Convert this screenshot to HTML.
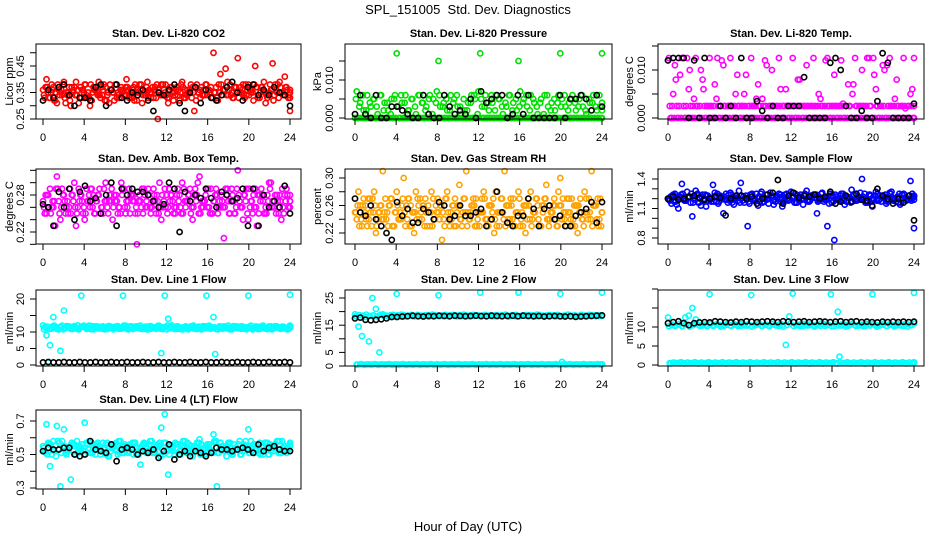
<!DOCTYPE html>
<html><head><meta charset="utf-8">
<style>
html,body{margin:0;padding:0;background:#fff;}
svg{display:block;font-family:"Liberation Sans",Arial,sans-serif;}
</style></head>
<body>
<svg id="chart" width="936" height="540" viewBox="0 0 936 540" xmlns="http://www.w3.org/2000/svg">
<rect x="0" y="0" width="936" height="540" fill="#fff"/>
<text x="468" y="14" font-size="13" text-anchor="middle">SPL_151005&#160; Std. Dev. Diagnostics</text>
<text x="468" y="531" font-size="13" text-anchor="middle">Hour of Day (UTC)</text>
</svg>
<script>
const xTicks=[0,4,8,12,16,20,24];
const co2A=[0.36,0.40,0.33,0.37,0.31,0.35,0.39,0.34,0.30,0.37,0.36,0.33,0.38,0.35,0.32,0.36,0.39,0.34,0.37,0.31,0.35,0.38,0.33,0.36,0.40,0.34,0.37,0.32,0.36,0.35,0.39,0.33,0.36,0.25,0.38,0.35,0.31,0.37,0.34,0.36,0.39,0.33,0.35,0.37,0.32,0.36,0.34,0.38,0.35,0.50,0.33,0.42,0.36,0.39,0.34,0.37,0.48,0.35,0.33,0.38,0.36,0.45,0.34,0.37,0.31,0.35,0.46,0.36,0.39,0.34,0.37,0.28];
const co2B=[0.33,0.35,0.38,0.32,0.36,0.34,0.31,0.37,0.35,0.39,0.33,0.36,0.34,0.30,0.37,0.35,0.33,0.38,0.34,0.36,0.32,0.35,0.37,0.34,0.36,0.33,0.38,0.35,0.31,0.34,0.36,0.37,0.33,0.35,0.38,0.34,0.36,0.32,0.37,0.35,0.33,0.36,0.38,0.28,0.35,0.37,0.34,0.36,0.33,0.35,0.38,0.34,0.44,0.36,0.33,0.37,0.35,0.38,0.34,0.36,0.32,0.37,0.35,0.39,0.33,0.36,0.34,0.38,0.35,0.41,0.33,0.36];
const co2C=[0.34,0.37,0.35,0.32,0.38,0.36,0.33,0.35,0.37,0.34,0.31,0.36,0.38,0.33,0.35,0.37,0.34,0.36,0.32,0.38,0.35,0.33,0.36,0.34,0.37,0.35,0.32,0.36,0.38,0.34,0.33,0.35,0.37,0.36,0.34,0.38,0.33,0.35,0.36,0.32,0.37,0.34,0.36,0.35,0.38,0.33,0.36,0.34,0.37,0.35,0.32,0.38,0.36,0.34,0.35,0.37,0.33,0.36,0.38,0.34,0.35,0.37,0.33,0.36,0.34,0.38,0.32,0.35,0.37,0.34,0.36,0.33];
const co2D=[0.37,0.33,0.36,0.35,0.34,0.38,0.35,0.32,0.36,0.34,0.37,0.35,0.33,0.38,0.36,0.34,0.37,0.32,0.35,0.36,0.38,0.34,0.35,0.37,0.33,0.36,0.35,0.38,0.34,0.37,0.35,0.33,0.38,0.34,0.36,0.33,0.37,0.35,0.34,0.38,0.36,0.35,0.33,0.37,0.35,0.34,0.38,0.36,0.33,0.37,0.35,0.36,0.34,0.38,0.33,0.35,0.37,0.34,0.36,0.35,0.38,0.33,0.37,0.35,0.34,0.36,0.38,0.33,0.35,0.37,0.34,0.35];
const co2K=[0.32,0.36,0.33,0.37,0.38,0.34,0.30,0.33,0.33,0.32,0.37,0.38,0.30,0.36,0.38,0.33,0.32,0.35,0.34,0.36,0.32,0.28,0.35,0.34,0.36,0.38,0.31,0.28,0.35,0.37,0.31,0.36,0.33,0.32,0.34,0.37,0.39,0.35,0.32,0.37,0.38,0.34,0.36,0.34,0.37,0.35,0.34,0.30];
const presA=[0,0,0,0,0,0,0,0,0,0,0,0,0.017,0,0,0,0,0,0,0,0,0,0,0,0.015,0,0,0,0,0,0,0,0,0,0,0,0.017,0,0,0,0,0,0,0,0,0,0,0.015,0,0,0,0,0,0,0,0,0,0,0,0.017,0,0,0,0,0,0,0,0,0,0,0,0.017];
const presB=[0.007,0.004,0.002,0.006,0.003,0.005,0.001,0.006,0.004,0.002,0.005,0.006,0.003,0.004,0.006,0.002,0.005,0.001,0.006,0.004,0.003,0.006,0.005,0.007,0.003,0.004,0.002,0.006,0.005,0.003,0.001,0.002,0.004,0.006,0.005,0.007,0.003,0.006,0.002,0.004,0.006,0.005,0.001,0.003,0.006,0.004,0.002,0.007,0.005,0.003,0.006,0.004,0.001,0.005,0.006,0.003,0.004,0.002,0.006,0.005,0.003,0.004,0.006,0.002,0.005,0.003,0.001,0.004,0.006,0.002,0.003,0.004];
const presC=[0.005,0.003,0.006,0.002,0.004,0.005,0.003,0.006,0.002,0.004,0.001,0.005,0.003,0.006,0.004,0.002,0.005,0.003,0.006,0.004,0.002,0.005,0.001,0.004,0.006,0.003,0.005,0.002,0.004,0.006,0.003,0.005,0.002,0.004,0.006,0.001,0.005,0.003,0.004,0.006,0.002,0.005,0.003,0.004,0.006,0.002,0.005,0.003,0.004,0.006,0.002,0.005,0.003,0.004,0.001,0.006,0.002,0.005,0.004,0.003,0.006,0.002,0.005,0.004,0.003,0.006,0.002,0.005,0.004,0.003,0.006,0.002];
const presD=[0,0,0,0,0,0,0,0,0,0,0,0,0,0,0,0,0,0,0,0,0,0,0,0,0,0,0,0,0,0,0,0,0,0,0,0,0,0,0,0,0,0,0,0,0,0,0,0,0,0,0,0,0,0,0,0,0,0,0,0,0,0,0,0,0,0,0,0,0,0,0,0];
const presK=[0.001,0.006,0.001,0,0.006,0,0,0.003,0.003,0.002,0.001,0,0,0.006,0.001,0,0,0.006,0.003,0.001,0.002,0.001,0.005,0,0.007,0.004,0.005,0.006,0.006,0,0.001,0.006,0.001,0.006,0,0,0,0,0,0.006,0,0.005,0.005,0.006,0.005,0.002,0.006,0.003];
const tempA=[0.012,0,0.011,0,0.0125,0,0.006,0,0.0125,0,0.008,0,0.0125,0,0.004,0,0.011,0,0.0125,0,0.009,0,0.005,0,0.0125,0,0.007,0,0.012,0,0.010,0,0.0125,0,0.006,0,0.0125,0,0.008,0,0.011,0,0.0125,0,0.004,0,0.0125,0,0.009,0,0.012,0,0.007,0,0.0125,0,0.010,0,0.0125,0,0.006,0,0.011,0,0.0125,0,0.008,0,0.0125,0,0.005,0];
const tempB=[0.0025,0.005,0.0025,0.009,0.0025,0.0125,0.0025,0.004,0.0025,0.010,0.0025,0.0025,0.0025,0.007,0.0025,0.012,0.0025,0.0025,0.0025,0.005,0.0025,0.0025,0.009,0.0025,0.0025,0.004,0.0025,0.0025,0.011,0.0025,0.0025,0.0025,0.006,0.0025,0.0025,0.0025,0.0025,0.008,0.0025,0.0025,0.0025,0.0025,0.0025,0.005,0.0025,0.012,0.0025,0.0025,0.0025,0.0025,0.003,0.0025,0.0025,0.007,0.0025,0.0025,0.0025,0.0125,0.0025,0.009,0.0025,0.0025,0.010,0.0025,0.0025,0.004,0.0025,0.0025,0.002,0.0025,0.006,0.0025];
const tempC=[0.0125,0.0025,0.008,0.0025,0.0125,0.0025,0.010,0.0025,0.0025,0.0025,0.006,0.0025,0.0025,0.0025,0.0125,0.0025,0.0025,0.0025,0.0025,0.0025,0.0025,0.0025,0.0025,0.0025,0.0025,0.0025,0.0025,0.004,0.0025,0.0025,0.0025,0.0025,0.0025,0.0025,0.0025,0.0025,0.0025,0.0025,0.0025,0.0025,0.0025,0.0025,0.0025,0.0025,0.0025,0.0025,0.0025,0.0025,0.0025,0.0025,0.0025,0.0025,0.0025,0.005,0.0025,0.0025,0.0025,0.0025,0.0025,0.0125,0.0025,0.0025,0.0025,0.011,0.0025,0.0025,0.0025,0.0025,0.0025,0.0025,0.0025,0.0125];
const tempD=[0,0,0,0,0,0,0,0,0,0,0,0,0,0,0,0,0,0,0,0,0,0,0,0,0,0,0,0,0,0,0,0,0,0,0,0,0,0,0,0,0,0,0,0,0,0,0,0,0,0,0,0,0,0,0,0,0,0,0,0,0,0,0,0,0,0,0,0,0,0,0,0];
const tempK=[0.012,0.0125,0.0125,0.0125,0,0.012,0,0.0125,0,0,0.0025,0,0.0025,0,0.0125,0,0,0.0035,0.0015,0,0.0025,0,0,0.0025,0.0025,0.0025,0.0085,0,0,0,0,0.0115,0.0125,0.01,0.0025,0,0,0.0015,0,0,0.0035,0.0135,0.0115,0,0,0,0,0.003];
const ambA=[0.27,0.25,0.29,0.26,0.31,0.24,0.28,0.27,0.25,0.30,0.26,0.28,0.24,0.27,0.29,0.25,0.28,0.26,0.30,0.27,0.24,0.28,0.26,0.29,0.27,0.25,0.28,0.20,0.27,0.29,0.26,0.25,0.28,0.27,0.24,0.29,0.26,0.28,0.25,0.27,0.30,0.26,0.28,0.24,0.27,0.31,0.26,0.29,0.25,0.27,0.28,0.26,0.21,0.29,0.27,0.25,0.32,0.26,0.28,0.24,0.27,0.29,0.25,0.28,0.26,0.30,0.27,0.25,0.28,0.26,0.29,0.27];
const ambB=[0.25,0.28,0.26,0.23,0.27,0.29,0.25,0.26,0.28,0.23,0.27,0.25,0.29,0.26,0.28,0.27,0.25,0.29,0.26,0.27,0.28,0.25,0.30,0.26,0.27,0.28,0.25,0.27,0.29,0.26,0.28,0.27,0.25,0.30,0.26,0.28,0.27,0.25,0.28,0.26,0.29,0.27,0.25,0.28,0.30,0.26,0.27,0.29,0.25,0.28,0.26,0.27,0.29,0.25,0.28,0.26,0.27,0.24,0.29,0.26,0.28,0.23,0.27,0.25,0.28,0.30,0.26,0.27,0.24,0.28,0.26,0.27];
const ambC=[0.26,0.28,0.25,0.27,0.29,0.26,0.27,0.25,0.28,0.26,0.29,0.27,0.25,0.28,0.26,0.27,0.29,0.25,0.27,0.28,0.26,0.27,0.25,0.29,0.26,0.28,0.27,0.25,0.26,0.28,0.29,0.26,0.27,0.25,0.28,0.26,0.29,0.27,0.26,0.28,0.25,0.27,0.29,0.26,0.28,0.25,0.27,0.26,0.29,0.27,0.25,0.28,0.26,0.27,0.29,0.25,0.28,0.26,0.27,0.29,0.25,0.26,0.28,0.27,0.25,0.29,0.26,0.28,0.27,0.25,0.28,0.26];
const ambD=[0.28,0.26,0.27,0.29,0.25,0.28,0.26,0.29,0.27,0.25,0.28,0.26,0.27,0.29,0.25,0.28,0.26,0.27,0.25,0.29,0.27,0.26,0.28,0.25,0.29,0.27,0.26,0.28,0.25,0.27,0.26,0.29,0.28,0.26,0.27,0.25,0.28,0.26,0.29,0.25,0.27,0.28,0.26,0.29,0.25,0.27,0.28,0.26,0.25,0.29,0.27,0.26,0.28,0.25,0.27,0.29,0.26,0.28,0.25,0.27,0.26,0.28,0.29,0.25,0.27,0.26,0.28,0.25,0.29,0.27,0.26,0.28];
const ambK=[0.265,0.26,0.23,0.285,0.26,0.29,0.24,0.285,0.295,0.27,0.275,0.25,0.28,0.30,0.23,0.29,0.28,0.29,0.285,0.285,0.28,0.27,0.26,0.265,0.30,0.29,0.22,0.285,0.27,0.28,0.275,0.29,0.275,0.26,0.285,0.28,0.27,0.275,0.29,0.23,0.29,0.23,0.28,0.26,0.27,0.26,0.295,0.25];
const rhA=[0.25,0.28,0.23,0.26,0.24,0.27,0.22,0.25,0.31,0.24,0.26,0.23,0.28,0.25,0.30,0.24,0.26,0.22,0.27,0.25,0.23,0.26,0.28,0.24,0.25,0.21,0.27,0.24,0.26,0.23,0.29,0.25,0.31,0.24,0.27,0.23,0.25,0.28,0.24,0.26,0.22,0.25,0.27,0.31,0.24,0.26,0.23,0.28,0.25,0.22,0.26,0.24,0.27,0.23,0.25,0.29,0.24,0.26,0.23,0.30,0.25,0.27,0.24,0.26,0.22,0.25,0.28,0.24,0.31,0.26,0.23,0.25];
const rhB=[0.24,0.26,0.27,0.23,0.25,0.28,0.24,0.26,0.25,0.23,0.27,0.25,0.24,0.26,0.23,0.27,0.25,0.28,0.24,0.26,0.25,0.23,0.27,0.25,0.26,0.24,0.28,0.25,0.23,0.26,0.24,0.27,0.25,0.26,0.23,0.25,0.27,0.24,0.26,0.25,0.28,0.23,0.25,0.26,0.24,0.27,0.25,0.23,0.26,0.24,0.28,0.25,0.26,0.23,0.27,0.24,0.25,0.26,0.28,0.24,0.25,0.27,0.23,0.26,0.25,0.24,0.27,0.25,0.26,0.24,0.27,0.25];
const rhC=[0.25,0.23,0.26,0.24,0.27,0.25,0.23,0.26,0.24,0.25,0.27,0.23,0.26,0.24,0.25,0.27,0.23,0.25,0.26,0.24,0.27,0.25,0.23,0.26,0.24,0.25,0.27,0.23,0.26,0.25,0.24,0.27,0.23,0.25,0.26,0.24,0.25,0.27,0.23,0.26,0.24,0.25,0.27,0.23,0.26,0.24,0.25,0.27,0.23,0.26,0.24,0.25,0.27,0.23,0.26,0.24,0.25,0.27,0.23,0.26,0.24,0.25,0.27,0.23,0.26,0.24,0.25,0.27,0.23,0.26,0.24,0.25];
const rhD=[0.26,0.24,0.25,0.27,0.23,0.26,0.25,0.24,0.27,0.26,0.23,0.25,0.24,0.27,0.26,0.23,0.25,0.24,0.27,0.26,0.23,0.25,0.24,0.27,0.26,0.23,0.25,0.24,0.27,0.26,0.23,0.25,0.24,0.26,0.27,0.23,0.25,0.24,0.26,0.27,0.23,0.25,0.24,0.26,0.27,0.23,0.25,0.24,0.26,0.27,0.23,0.25,0.24,0.26,0.27,0.23,0.25,0.24,0.26,0.27,0.23,0.25,0.24,0.26,0.27,0.23,0.25,0.24,0.26,0.27,0.23,0.25];
const rhK=[0.27,0.25,0.245,0.26,0.24,0.23,0.22,0.21,0.265,0.245,0.255,0.235,0.235,0.255,0.25,0.24,0.265,0.26,0.24,0.245,0.26,0.245,0.245,0.25,0.255,0.23,0.24,0.28,0.25,0.235,0.23,0.245,0.245,0.27,0.255,0.23,0.255,0.26,0.24,0.245,0.23,0.23,0.245,0.25,0.255,0.265,0.235,0.265];
const sfA=[1.20,1.15,1.25,1.10,1.35,1.18,1.22,1.02,1.28,1.16,1.24,1.12,1.20,1.34,1.17,1.23,1.05,1.19,1.26,1.14,1.21,1.36,1.16,0.92,1.24,1.18,1.13,1.27,1.20,1.15,1.23,1.17,1.25,1.12,1.21,1.19,1.26,1.16,1.22,1.14,1.28,1.18,1.24,1.05,1.20,1.17,0.92,1.23,0.78,1.19,1.25,1.14,1.21,1.29,1.18,1.22,1.40,1.16,1.24,1.12,1.27,1.19,1.23,1.15,1.26,1.18,1.21,1.14,1.25,1.20,1.38,0.90];
const sfB=[1.18,1.24,1.14,1.22,1.19,1.27,1.16,1.21,1.25,1.13,1.20,1.23,1.17,1.26,1.15,1.22,1.19,1.24,1.16,1.21,1.28,1.18,1.23,1.15,1.20,1.25,1.17,1.22,1.19,1.26,1.14,1.21,1.24,1.18,1.20,1.27,1.16,1.23,1.19,1.25,1.17,1.21,1.24,1.18,1.26,1.20,1.15,1.23,1.22,1.19,1.25,1.17,1.21,1.24,1.18,1.26,1.20,1.16,1.23,1.19,1.25,1.17,1.22,1.18,1.27,1.20,1.16,1.24,1.21,1.19,1.25,1.22];
const sfC=[1.19,1.23,1.17,1.21,1.25,1.18,1.22,1.16,1.24,1.20,1.18,1.23,1.21,1.17,1.25,1.19,1.22,1.16,1.24,1.20,1.18,1.23,1.21,1.17,1.25,1.19,1.22,1.16,1.24,1.20,1.18,1.23,1.21,1.17,1.25,1.19,1.22,1.16,1.24,1.20,1.18,1.23,1.21,1.17,1.25,1.19,1.22,1.16,1.24,1.20,1.18,1.23,1.21,1.17,1.25,1.19,1.22,1.16,1.24,1.20,1.18,1.23,1.21,1.17,1.25,1.19,1.22,1.16,1.24,1.20,1.18,1.23];
const sfD=[1.22,1.17,1.20,1.24,1.18,1.21,1.25,1.19,1.16,1.22,1.24,1.18,1.20,1.23,1.17,1.21,1.25,1.18,1.20,1.23,1.16,1.22,1.19,1.24,1.18,1.21,1.25,1.17,1.20,1.23,1.19,1.22,1.16,1.24,1.18,1.21,1.25,1.19,1.20,1.23,1.17,1.22,1.24,1.18,1.21,1.19,1.25,1.17,1.20,1.23,1.18,1.22,1.16,1.24,1.19,1.21,1.25,1.17,1.20,1.23,1.18,1.22,1.24,1.19,1.21,1.17,1.25,1.20,1.18,1.23,1.21,1.19];
const sfK=[1.20,1.22,1.19,1.20,1.22,1.23,1.21,1.19,1.20,1.22,1.21,1.03,1.20,1.23,1.23,1.20,1.22,1.15,1.20,1.24,1.26,1.39,1.15,1.23,1.26,1.21,1.23,1.22,1.24,1.20,1.22,1.27,1.15,1.17,1.23,1.17,1.25,1.19,1.18,1.13,1.30,1.23,1.20,1.15,1.20,1.16,1.23,0.98];
const l1A=[12,9,6,14.5,11,4.3,16.5,11.5,11,11.8,12,21,11.5,11,11.8,11.2,11.6,11,11.4,11.8,11.2,11.5,11,21,11.3,11.7,11.1,11.5,11.9,11.2,11.6,11,11.4,11.8,3.6,21,14,12,11.5,11,11.3,11.7,11.2,11.6,11,11.4,11.8,21,11.2,14.5,11,11.3,11.7,11.1,11.5,11.2,11.6,11,11.4,21,11.2,11.6,11,11.5,11.3,11.7,11.1,11.5,11.2,11.6,11,21.3];
const l1B=[11.5,0.8,11,11.6,10.8,11.9,11.2,11.7,10.9,11.4,11.1,11.8,11,11.5,10.8,11.7,11.2,11.4,10.9,11.6,11.1,11.8,11,11.3,10.8,11.7,11.2,11.5,10.9,11.6,11.1,11.4,11,11.8,11.2,10.8,11.5,11.1,11.7,10.9,11.4,11.2,11.6,11,11.3,10.8,11.7,11.1,11.5,3.3,11.4,11,11.6,11.2,10.9,11.7,11.3,11.5,10.8,11.4,11.1,11.6,11,11.3,10.9,11.7,11.2,11.5,11,11.4,10.9,11.3];
const l1C=[10.8,11.6,11.2,11.9,10.9,11.5,11.1,11.7,11.0,11.4,10.8,11.6,11.2,11.9,10.9,11.5,11.1,11.7,11.0,11.4,10.8,11.6,11.2,11.9,10.9,11.5,11.1,11.7,11.0,11.4,10.8,11.6,11.2,11.9,10.9,11.5,11.1,11.7,11.0,11.4,10.8,11.6,11.2,11.9,10.9,11.5,11.1,11.7,11.0,11.4,10.8,11.6,11.2,11.9,10.9,11.5,11.1,11.7,11.0,11.4,10.8,11.6,11.2,11.9,10.9,11.5,11.1,11.7,11.0,11.4,10.8,11.6];
const l1D=[11.3,10.9,11.7,11.1,11.5,10.8,11.8,11.2,11.6,11.0,11.4,11.9,11.3,10.9,11.7,11.1,11.5,10.8,11.8,11.2,11.6,11.0,11.4,11.9,11.3,10.9,11.7,11.1,11.5,10.8,11.8,11.2,11.6,11.0,11.4,11.9,11.3,10.9,11.7,11.1,11.5,10.8,11.8,11.2,11.6,11.0,11.4,11.9,11.3,10.9,11.7,11.1,11.5,10.8,11.8,11.2,11.6,11.0,11.4,11.9,11.3,10.9,11.7,11.1,11.5,10.8,11.8,11.2,11.6,11.0,11.4,11.9];
const l1K=[0.8,0.9,0.8,0.8,0.9,0.8,0.8,0.9,0.8,0.8,0.9,0.8,0.8,0.9,0.8,0.8,0.9,0.8,0.8,0.9,0.8,0.8,0.9,0.8,0.8,0.9,0.8,0.8,0.9,0.8,0.8,0.9,0.8,0.8,0.9,0.8,0.8,0.9,0.8,0.8,0.9,0.8,0.8,0.9,0.8,0.8,0.9,0.8];
const l2A=[19,14.5,11,18,9,25,21,5,19,18.5,18,18.8,26.5,18.3,18.7,18.4,18.6,18.2,18.8,18.5,18.3,18.7,18.4,18.6,26,18.4,18.8,18.3,18.6,18.5,18.7,18.4,18.6,18.3,18.8,18.5,27,18.6,18.4,18.7,18.3,18.6,18.5,18.8,18.4,18.6,18.3,27,18.5,18.7,18.4,18.6,18.3,18.8,18.5,18.4,18.7,18.6,18.3,26.5,18.5,18.7,18.4,18.6,18.3,18.8,18.5,18.4,18.7,18.6,18.4,27];
const l2B=[0.5,0.6,0.5,0.6,0.5,0.6,0.5,0.6,0.5,0.6,0.5,0.6,0.5,0.6,0.5,0.6,0.5,0.6,0.5,0.6,0.5,0.6,0.5,0.6,0.5,0.6,0.5,0.6,0.5,0.6,0.5,0.6,0.5,0.6,0.5,0.6,0.5,0.6,0.5,0.6,0.5,0.6,0.5,0.6,0.5,0.6,0.5,0.6,0.5,0.6,0.5,0.6,0.5,0.6,0.5,0.6,0.5,0.6,0.5,1.5,0.5,0.6,0.5,0.6,0.5,0.6,0.5,0.6,0.5,0.6,0.5,0.6];
const l2C=[18.3,18.7,18.5,18.9,18.4,18.6,18.2,18.8,18.5,18.3,18.7,18.4,18.6,18.9,18.2,18.5,18.8,18.3,18.6,18.4,18.7,18.2,18.9,18.5,18.3,18.7,18.4,18.6,18.8,18.2,18.5,18.9,18.3,18.6,18.4,18.7,18.2,18.8,18.5,18.3,18.7,18.4,18.6,18.9,18.2,18.5,18.8,18.3,18.6,18.4,18.7,18.2,18.9,18.5,18.3,18.7,18.4,18.6,18.8,18.2,18.5,18.9,18.3,18.6,18.4,18.7,18.2,18.8,18.5,18.3,18.7,18.4];
const l2D=[0.5,0.7,0.4,0.6,0.5,0.7,0.4,0.6,0.5,0.7,0.4,0.6,0.5,0.7,0.4,0.6,0.5,0.7,0.4,0.6,0.5,0.7,0.4,0.6,0.5,0.7,0.4,0.6,0.5,0.7,0.4,0.6,0.5,0.7,0.4,0.6,0.5,0.7,0.4,0.6,0.5,0.7,0.4,0.6,0.5,0.7,0.4,0.6,0.5,0.7,0.4,0.6,0.5,0.7,0.4,0.6,0.5,0.7,0.4,0.6,0.5,0.7,0.4,0.6,0.5,0.7,0.4,0.6,0.5,0.7,0.4,0.6];
const l2K=[17.5,17.8,17,16.8,17,17.2,17.5,18,18,18.2,18.3,18.5,18.3,18.2,18.4,18.3,18.5,18.4,18.3,18.5,18.4,18.3,18.4,18.5,18.4,18.3,18.5,18.4,18.3,18.4,18.5,18.3,18.5,18.4,18.3,18.4,18.2,18.3,18.4,18.3,18.2,18.3,18.1,18.2,18.3,18.4,18.5,18.6];
const l3A=[12.5,10.5,10.3,10.7,10.2,12.5,13,15,12,10.5,10.4,10.6,18.6,10.3,10.7,10.5,10.2,10.6,10.4,10.8,10.5,10.3,10.6,10.4,18.4,10.5,10.7,10.3,10.6,10.4,10.8,10.5,10.3,10.6,5.3,12.8,18.8,10.4,10.6,10.3,10.7,10.5,10.4,10.6,10.3,10.8,10.5,18.6,10.2,14,10.4,10.6,10.3,10.7,10.5,10.4,10.6,10.3,10.8,18.6,10.5,10.4,10.6,10.3,10.7,10.5,10.4,10.6,10.3,10.8,10.5,19];
const l3B=[0.5,0.6,0.5,0.6,0.5,0.6,0.5,0.6,0.5,0.6,0.5,0.6,0.5,0.6,0.5,0.6,0.5,0.6,0.5,0.6,0.5,0.6,0.5,0.6,0.5,0.6,0.5,0.6,0.5,0.6,0.5,0.6,0.5,0.6,0.5,0.6,0.5,0.6,0.5,0.6,0.5,0.6,0.5,0.6,0.5,0.6,0.5,0.6,0.5,2.2,0.5,0.6,0.5,0.6,0.5,0.6,0.5,0.6,0.5,0.6,0.5,0.6,0.5,0.6,0.5,0.6,0.5,0.6,0.5,0.6,0.5,0.6];
const l3C=[10.2,10.6,10.4,10.8,10.3,10.7,10.1,10.5,10.9,10.3,10.6,10.2,10.8,10.4,10.7,10.1,10.5,10.9,10.3,10.6,10.2,10.8,10.4,10.7,10.1,10.5,10.9,10.3,10.6,10.2,10.8,10.4,10.7,10.1,10.5,10.9,10.3,10.6,10.2,10.8,10.4,10.7,10.1,10.5,10.9,10.3,10.6,10.2,10.8,10.4,10.7,10.1,10.5,10.9,10.3,10.6,10.2,10.8,10.4,10.7,10.1,10.5,10.9,10.3,10.6,10.2,10.8,10.4,10.7,10.1,10.5,10.9];
const l3D=[0.4,0.6,0.5,0.7,0.4,0.6,0.5,0.7,0.4,0.6,0.5,0.7,0.4,0.6,0.5,0.7,0.4,0.6,0.5,0.7,0.4,0.6,0.5,0.7,0.4,0.6,0.5,0.7,0.4,0.6,0.5,0.7,0.4,0.6,0.5,0.7,0.4,0.6,0.5,0.7,0.4,0.6,0.5,0.7,0.4,0.6,0.5,0.7,0.4,0.6,0.5,0.7,0.4,0.6,0.5,0.7,0.4,0.6,0.5,0.7,0.4,0.6,0.5,0.7,0.4,0.6,0.5,0.7,0.4,0.6,0.5,0.7];
const l3K=[11,11.3,11.5,11,10.5,11,11.2,11.3,11.2,11.5,11.4,11.3,11.2,11.4,11.3,11.5,11.4,11.3,11.4,11.5,11.4,11.3,11.5,11.4,11.3,11.4,11.5,11.3,11.4,11.5,11.4,11.3,11.4,11.5,11.3,11.4,11.5,11.3,11.4,11.3,11.2,11.4,11.3,11.4,11.3,11.4,11.3,11.4];
const l4A=[0.55,0.68,0.43,0.58,0.67,0.31,0.65,0.52,0.35,0.56,0.51,0.54,0.69,0.53,0.57,0.50,0.55,0.52,0.56,0.49,0.54,0.57,0.51,0.55,0.53,0.56,0.50,0.54,0.44,0.57,0.52,0.55,0.51,0.56,0.66,0.74,0.38,0.53,0.57,0.50,0.55,0.52,0.56,0.49,0.54,0.59,0.51,0.55,0.53,0.62,0.31,0.57,0.52,0.55,0.51,0.56,0.53,0.50,0.55,0.65,0.52,0.56,0.51,0.54,0.57,0.50,0.55,0.52,0.58,0.54,0.51,0.55];
const l4B=[0.52,0.57,0.50,0.55,0.53,0.58,0.51,0.54,0.56,0.50,0.55,0.52,0.57,0.51,0.54,0.56,0.50,0.53,0.57,0.52,0.55,0.50,0.54,0.56,0.51,0.53,0.57,0.50,0.55,0.52,0.56,0.51,0.54,0.57,0.50,0.53,0.55,0.52,0.56,0.50,0.54,0.57,0.51,0.55,0.53,0.56,0.50,0.54,0.52,0.57,0.51,0.55,0.53,0.56,0.50,0.54,0.58,0.52,0.55,0.51,0.56,0.53,0.50,0.55,0.57,0.52,0.54,0.58,0.51,0.55,0.53,0.56];
const l4C=[0.54,0.50,0.56,0.52,0.58,0.51,0.55,0.53,0.57,0.50,0.54,0.56,0.52,0.58,0.51,0.55,0.53,0.57,0.50,0.54,0.56,0.52,0.58,0.51,0.55,0.53,0.57,0.50,0.54,0.56,0.52,0.58,0.51,0.55,0.53,0.57,0.50,0.54,0.56,0.52,0.58,0.51,0.55,0.53,0.57,0.50,0.54,0.56,0.52,0.58,0.51,0.55,0.53,0.57,0.50,0.54,0.56,0.52,0.58,0.51,0.55,0.53,0.57,0.50,0.54,0.56,0.52,0.58,0.51,0.55,0.53,0.57];
const l4D=[0.51,0.56,0.53,0.49,0.57,0.54,0.50,0.55,0.52,0.58,0.53,0.50,0.56,0.51,0.55,0.57,0.52,0.54,0.49,0.56,0.53,0.58,0.51,0.55,0.52,0.57,0.50,0.54,0.56,0.51,0.58,0.53,0.55,0.49,0.57,0.52,0.54,0.50,0.56,0.53,0.58,0.51,0.55,0.52,0.57,0.50,0.54,0.56,0.51,0.58,0.53,0.55,0.49,0.57,0.52,0.54,0.50,0.56,0.53,0.58,0.51,0.55,0.52,0.57,0.50,0.54,0.56,0.51,0.58,0.53,0.55,0.52];
const l4K=[0.52,0.54,0.53,0.53,0.54,0.54,0.50,0.49,0.50,0.58,0.53,0.52,0.51,0.56,0.46,0.53,0.54,0.53,0.50,0.52,0.51,0.53,0.48,0.52,0.56,0.47,0.50,0.52,0.49,0.52,0.51,0.49,0.51,0.54,0.53,0.53,0.52,0.53,0.54,0.53,0.51,0.56,0.52,0.54,0.55,0.53,0.52,0.52];

const NS="http://www.w3.org/2000/svg";
const svg=document.getElementById('chart');
const colL=[36,345,658],colR=[301,612,924],colX0=[43,355,668],colX24=[290,602,914],colYL=[13,321,633],colTL=[24,333,645];
const rowT=[44,169,290,410],rowB=[119,244,366,489];
function mk(tag,attrs,parent){const e=document.createElementNS(NS,tag);for(const k in attrs)e.setAttribute(k,attrs[k]);(parent||svg).appendChild(e);return e;}
const panels=[
 {key:'co2',title:'Stan. Dev. Li-820 CO2',ylab:'Licor ppm',c:0,r:0,v0:0.25,p0:119,v1:0.45,p1:66,ticks:[0.25,0.30,0.35,0.40,0.45,0.50],labs:['0.25',null,'0.35',null,'0.45',null],col:'#ff0000',S:[co2A,co2B,co2C,co2D],K:co2K},
 {key:'pressure',title:'Stan. Dev. Li-820 Pressure',ylab:'kPa',c:1,r:0,v0:0,p0:118,v1:0.010,p1:80,ticks:[0,0.005,0.010,0.015],labs:['0.000',null,'0.010',null],col:'#00e000',S:[presA,presB,presC,presD],K:presK},
 {key:'temp',title:'Stan. Dev. Li-820 Temp.',ylab:'degrees C',c:2,r:0,v0:0,p0:118,v1:0.010,p1:70,ticks:[0,0.005,0.010,0.015],labs:['0.000',null,'0.010',null],col:'#ff00ff',S:[tempA,tempB,tempC,tempD],K:tempK},
 {key:'amb-box-temp',title:'Stan. Dev. Amb. Box Temp.',ylab:'degrees C',c:0,r:1,v0:0.22,p0:232,v1:0.28,p1:195,ticks:[0.20,0.22,0.24,0.26,0.28,0.30,0.32],labs:[null,'0.22',null,null,'0.28',null,null],col:'#ff00ff',S:[ambA,ambB,ambC,ambD],K:ambK},
 {key:'gas-rh',title:'Stan. Dev. Gas Stream RH',ylab:'percent',c:1,r:1,v0:0.22,p0:233,v1:0.30,p1:178,ticks:[0.22,0.24,0.26,0.28,0.30],labs:['0.22',null,'0.26',null,'0.30'],col:'#ffa200',S:[rhA,rhB,rhC,rhD],K:rhK},
 {key:'sample-flow',title:'Stan. Dev. Sample Flow',ylab:'ml/min',c:2,r:1,v0:0.8,p0:238,v1:1.4,p1:179,ticks:[0.8,0.9,1.0,1.1,1.2,1.3,1.4],labs:['0.8',null,null,'1.1',null,null,'1.4'],col:'#0000ff',S:[sfA,sfB,sfC,sfD],K:sfK},
 {key:'line1',title:'Stan. Dev. Line 1 Flow',ylab:'ml/min',c:0,r:2,v0:0,p0:365,v1:20,p1:299,ticks:[0,5,10,15,20],labs:['0','5','10',null,'20'],col:'#00ffff',S:[l1A,l1B,l1C,l1D],K:l1K},
 {key:'line2',title:'Stan. Dev. Line 2 Flow',ylab:'ml/min',c:1,r:2,v0:0,p0:366,v1:25,p1:298,ticks:[0,5,10,15,20,25],labs:['0','5',null,'15',null,'25'],col:'#00ffff',S:[l2A,l2B,l2C,l2D],K:l2K},
 {key:'line3',title:'Stan. Dev. Line 3 Flow',ylab:'ml/min',c:2,r:2,v0:0,p0:365,v1:10,p1:327,ticks:[0,5,10,15,20],labs:['0','5','10',null,null],col:'#00ffff',S:[l3A,l3B,l3C,l3D],K:l3K},
 {key:'line4',title:'Stan. Dev. Line 4 (LT) Flow',ylab:'ml/min',c:0,r:3,v0:0.3,p0:488,v1:0.7,p1:421,ticks:[0.3,0.4,0.5,0.6,0.7],labs:['0.3',null,'0.5',null,'0.7'],col:'#00ffff',S:[l4A,l4B,l4C,l4D],K:l4K}
];
const offs=[0,0.5,0.25,0.75];
panels.forEach(p=>{
 const L=colL[p.c],R=colR[p.c],T=rowT[p.r],B=rowB[p.r];
 const xs=h=>colX0[p.c]+(colX24[p.c]-colX0[p.c])*h/24;
 const ys=v=>p.p0+(p.p1-p.p0)*(v-p.v0)/(p.v1-p.v0);
 const g=mk('g',{});
 
 
 const t=mk('text',{x:(L+R)/2,y:T-7,'font-size':11,'font-weight':'bold','text-anchor':'middle'},g);
 t.textContent=p.title;
 
 
 const yl=mk('text',{x:colYL[p.c],y:(T+B)/2,'font-size':11,'text-anchor':'middle',transform:`rotate(-90 ${colYL[p.c]} ${(T+B)/2})`},g);
 yl.textContent=p.ylab;
 
 
 const pts=mk('g',{fill:'none','stroke-width':1.6},g);
 
 
 p.S.forEach((arr,j)=>{
  arr.forEach((v,i)=>{
   const h=Math.min(24,(i+offs[j])*24/(arr.length-1));
   const c=mk('circle',{cx:xs(h).toFixed(1),cy:ys(v).toFixed(1),r:2.6,stroke:p.col},pts);
   
   
  });
 });
 p.K.forEach((v,i)=>{
  const h=i*24/(p.K.length-1);
  const c=mk('circle',{cx:xs(h).toFixed(1),cy:ys(v).toFixed(1),r:2.6,stroke:'#000'},pts);
  
  
 });
 const box=mk('rect',{x:L,y:T,width:R-L,height:B-T,fill:'none',stroke:'#000','stroke-width':1},g);
 
 
 xTicks.forEach(h=>{
  const x=xs(h);
  const tk=mk('line',{x1:x,y1:B,x2:x,y2:B+6,stroke:'#000'},g);
  
  
  const tl=mk('text',{x:x,y:B+22,'font-size':11,'text-anchor':'middle'},g);
  tl.textContent=h;
  
  
 });
 p.ticks.forEach((v,i)=>{
  const y=ys(v);
  const tk=mk('line',{x1:L-6,y1:y,x2:L,y2:y,stroke:'#000'},g);
  
  
  if(p.labs[i]){
   const tl=mk('text',{x:colTL[p.c],y:y,'font-size':11,'text-anchor':'middle',transform:`rotate(-90 ${colTL[p.c]} ${y})`},g);
   tl.textContent=p.labs[i];
   
   
  }
 });
});
</script>
</body></html>
